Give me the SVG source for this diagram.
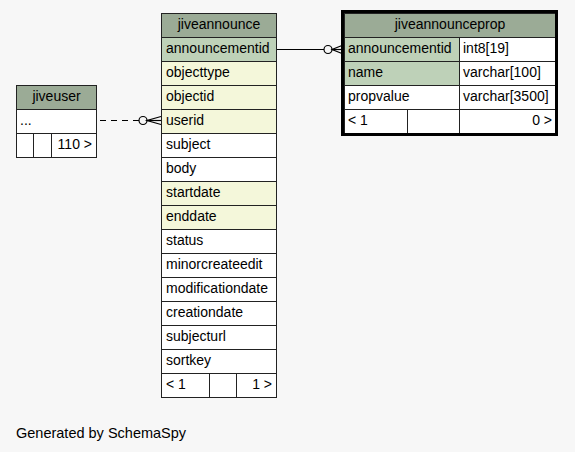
<svg xmlns="http://www.w3.org/2000/svg" width="575" height="452" viewBox="0 0 575 452">
<style>
text{font-family:"Liberation Sans",Arial,sans-serif;font-size:14px;fill:#000}
.h{fill:#9bab96}
.pk{fill:#bed1b8}
.fk{fill:#f4f7da}
.w{fill:#ffffff}
rect{stroke:#222;stroke-width:1}
.c{text-anchor:middle}
.r{text-anchor:end}
.ln{fill:none;stroke:#000;stroke-width:1.2}
</style>
<rect x="0" y="0" width="575" height="452" fill="#f7f7f7" style="stroke:none"/>
<g id="connectors">
<line class="ln" x1="276" y1="49.5" x2="324" y2="49.5"/>
<circle class="ln" cx="328" cy="49.5" r="4" fill="#fff"/>
<polyline class="ln" points="342,45.5 332,49.5 342,53.5"/>
<line class="ln" x1="332" y1="49.5" x2="342" y2="49.5"/>
<line class="ln" x1="100" y1="120.5" x2="139" y2="120.5" stroke-dasharray="6,5"/>
<circle class="ln" cx="143" cy="120.5" r="4" fill="#fff"/>
<polyline class="ln" points="161,116.5 147,120.5 161,124.5"/>
<line class="ln" x1="147" y1="120.5" x2="161" y2="120.5"/>
</g>
<g id="jiveannounce">
<rect class="h" x="161.5" y="13.5" width="115" height="24"/>
<text class="c" x="219" y="29">jiveannounce</text>
<rect class="pk" x="161.5" y="37.5" width="115" height="24"/>
<text x="166" y="53">announcementid</text>
<rect class="fk" x="161.5" y="61.5" width="115" height="24"/>
<text x="166" y="77">objecttype</text>
<rect class="fk" x="161.5" y="85.5" width="115" height="24"/>
<text x="166" y="101">objectid</text>
<rect class="fk" x="161.5" y="109.5" width="115" height="24"/>
<text x="166" y="125">userid</text>
<rect class="w" x="161.5" y="133.5" width="115" height="24"/>
<text x="166" y="149">subject</text>
<rect class="w" x="161.5" y="157.5" width="115" height="24"/>
<text x="166" y="173">body</text>
<rect class="fk" x="161.5" y="181.5" width="115" height="24"/>
<text x="166" y="197">startdate</text>
<rect class="fk" x="161.5" y="205.5" width="115" height="24"/>
<text x="166" y="221">enddate</text>
<rect class="w" x="161.5" y="229.5" width="115" height="24"/>
<text x="166" y="245">status</text>
<rect class="w" x="161.5" y="253.5" width="115" height="24"/>
<text x="166" y="269">minorcreateedit</text>
<rect class="w" x="161.5" y="277.5" width="115" height="24"/>
<text x="166" y="293">modificationdate</text>
<rect class="w" x="161.5" y="301.5" width="115" height="24"/>
<text x="166" y="317">creationdate</text>
<rect class="w" x="161.5" y="325.5" width="115" height="24"/>
<text x="166" y="341">subjecturl</text>
<rect class="w" x="161.5" y="349.5" width="115" height="24"/>
<text x="166" y="365">sortkey</text>
<rect class="w" x="161.5" y="373.5" width="48" height="24"/>
<rect class="w" x="209.5" y="373.5" width="27" height="24"/>
<rect class="w" x="236.5" y="373.5" width="40" height="24"/>
<text x="166" y="389">&lt; 1</text>
<text class="r" x="272" y="389">1 &gt;</text>
</g>
<g id="jiveuser">
<rect class="h" x="16.5" y="85.5" width="80" height="24"/>
<text class="c" x="56.5" y="101">jiveuser</text>
<rect class="w" x="16.5" y="109.5" width="80" height="24"/>
<text x="20" y="125">...</text>
<rect class="w" x="16.5" y="133.5" width="17" height="24"/>
<rect class="w" x="33.5" y="133.5" width="18" height="24"/>
<rect class="w" x="51.5" y="133.5" width="45" height="24"/>
<text class="r" x="92" y="149">110 &gt;</text>
</g>
<g id="jiveannounceprop">
<rect class="h" x="344.5" y="13.5" width="211" height="24"/>
<text class="c" x="450" y="29">jiveannounceprop</text>
<rect class="pk" x="344.5" y="37.5" width="115" height="24"/>
<text x="348" y="53">announcementid</text>
<rect class="w" x="459.5" y="37.5" width="96" height="24"/>
<text x="463" y="53">int8[19]</text>
<rect class="pk" x="344.5" y="61.5" width="115" height="24"/>
<text x="348" y="77">name</text>
<rect class="w" x="459.5" y="61.5" width="96" height="24"/>
<text x="463" y="77">varchar[100]</text>
<rect class="w" x="344.5" y="85.5" width="115" height="24"/>
<text x="348" y="101">propvalue</text>
<rect class="w" x="459.5" y="85.5" width="96" height="24"/>
<text x="463" y="101">varchar[3500]</text>
<rect class="w" x="344.5" y="109.5" width="63" height="24"/>
<rect class="w" x="407.5" y="109.5" width="52" height="24"/>
<rect class="w" x="459.5" y="109.5" width="96" height="24"/>
<text x="348" y="125">&lt; 1</text>
<text class="r" x="552" y="125">0 &gt;</text>
<rect x="342.5" y="11.5" width="214" height="123" fill="none" style="stroke:#000;stroke-width:3"/>
</g>
<text x="16" y="438" style="font-size:14.5px">Generated by SchemaSpy</text>
</svg>
